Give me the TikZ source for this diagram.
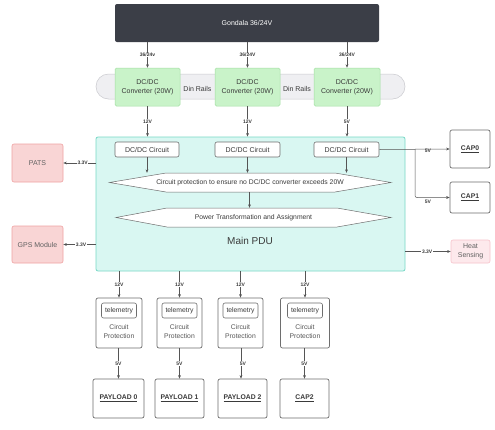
\documentclass[tikz,border=0pt]{standalone}
\usepackage{fontspec}
\setmainfont{Liberation Sans}
\usetikzlibrary{arrows.meta,calc}
\definecolor{gond}{HTML}{3B3E47}
\definecolor{convfill}{HTML}{C9F3C9}
\definecolor{convline}{HTML}{A3DFA3}
\definecolor{railfill}{HTML}{EFEFF2}
\definecolor{railline}{HTML}{C9C9CE}
\definecolor{pdufill}{HTML}{D9F7F2}
\definecolor{pduline}{HTML}{78D8C6}
\definecolor{pinkfill}{HTML}{F9D5D5}
\definecolor{pinkline}{HTML}{F0A3A3}
\definecolor{heatfill}{HTML}{FDE9EC}
\definecolor{heatline}{HTML}{F7C2CA}
\definecolor{boxline}{HTML}{6E6E6E}
\definecolor{wire}{HTML}{555555}
\definecolor{txt}{HTML}{3A3A3A}
\tikzset{
  conv/.style={fill=convfill, draw=convline, rounded corners=1.5pt, minimum height=38pt, inner sep=0pt, align=center, text=txt, font=\fontsize{7}{8.6}\selectfont, line width=0.5pt},
  circbox/.style={fill=white, draw=boxline, rounded corners=2pt, minimum height=15pt, inner sep=0pt, text=txt, font=\fontsize{7}{8.4}\selectfont, line width=0.6pt},
  pinkbox/.style={fill=pinkfill, draw=pinkline, rounded corners=2pt, inner sep=0pt, align=center, text=txt!80, font=\fontsize{7}{8.4}\selectfont, line width=0.6pt},
  capbox/.style={fill=white, draw=boxline, rounded corners=2pt, inner sep=0pt, align=center, text=txt, font=\fontsize{6.8}{8}\selectfont\bfseries, line width=0.7pt},
  protbox/.style={fill=white, draw=boxline, rounded corners=2pt, inner sep=0pt, minimum height=50pt, line width=0.7pt},
  telebox/.style={fill=white, draw=boxline, rounded corners=2pt, inner sep=0pt, minimum width=35pt, minimum height=15pt, text=txt, font=\fontsize{6.8}{8}\selectfont, line width=0.6pt},
  prottext/.style={align=center, text=txt!85, font=\fontsize{6.8}{8.2}\selectfont, inner sep=0pt},
  hexshape/.style={fill=white, draw=boxline, line width=0.5pt},
  wirearrow/.style={draw=wire, line width=0.5pt, -{Stealth[length=3.5pt,width=2.8pt]}},
  lbl/.style={font=\fontsize{5}{6}\selectfont\bfseries, text=txt, fill=white, inner sep=0.6pt},
  lblp/.style={font=\fontsize{5}{6}\selectfont\bfseries, text=txt, fill=pdufill, inner sep=0.6pt},
  lbln/.style={font=\fontsize{5}{6}\selectfont\bfseries, text=txt, inner sep=0.6pt},
}
\begin{document}
\begin{tikzpicture}[x=1pt,y=-1pt]
\useasboundingbox[fill=white] (0,0) rectangle (495,429);

% Gondala
\node[fill=gond, rounded corners=2pt, minimum width=264pt, minimum height=38pt, inner sep=0pt, text=white, font=\fontsize{7}{8}\selectfont] (gond) at (247,23) {Gondala 36/24V};

% Din rails
\node[fill=railfill, draw=railline, rounded corners=12.5pt, minimum width=309pt, minimum height=25pt, inner sep=0pt, line width=0.5pt] (rail) at (250.5,86.5) {};
\node[text=txt, font=\fontsize{7}{8}\selectfont, inner sep=0pt] (dr1) at (197.5,88.5) {Din Rails};
\node[text=txt, font=\fontsize{7}{8}\selectfont, inner sep=0pt] (dr2) at (297,88.5) {Din Rails};

% converters
\node[conv, minimum width=65pt] (cv1) at (147.5,87) {DC/DC\\Converter (20W)};
\node[conv, minimum width=65pt] (cv2) at (247.5,87) {DC/DC\\Converter (20W)};
\node[conv, minimum width=66pt] (cv3) at (347,87) {DC/DC\\Converter (20W)};

% PDU
\node[fill=pdufill, draw=pduline, rounded corners=2pt, minimum width=309pt, minimum height=134pt, inner sep=0pt, line width=0.8pt] (pdu) at (250.5,204) {};
\node[text=txt, font=\fontsize{10}{12}\selectfont, inner sep=0pt] (pdut) at (250,241) {Main PDU};

% circuits
\node[circbox, minimum width=64pt] (ci1) at (147,149.5) {DC/DC Circuit};
\node[circbox, minimum width=65pt] (ci2) at (247.5,149.5) {DC/DC Circuit};
\node[circbox, minimum width=65pt] (ci3) at (346.5,149.5) {DC/DC Circuit};

% hexagons
\draw[hexshape] (109.5,182.5) -- (166,173) -- (335,173) -- (391,182.5) -- (335,192) -- (166,192) -- cycle;
\node[minimum width=282pt, minimum height=19pt, inner sep=0pt, text=txt, font=\fontsize{6.8}{8}\selectfont] (hx1) at (250,182.5) {Circuit protection to ensure no DC/DC converter exceeds 20W};
\draw[hexshape] (116,217.5) -- (167,208) -- (337,208) -- (391,217.5) -- (337,227) -- (167,227) -- cycle;
\node[minimum width=275pt, minimum height=19pt, inner sep=0pt, text=txt, font=\fontsize{6.8}{8}\selectfont] (hx2) at (253.5,217.5) {Power Transformation and Assignment};

% left boxes
\node[pinkbox, minimum width=51pt, minimum height=38pt] (pats) at (37.5,163) {PATS};
\node[pinkbox, minimum width=51pt, minimum height=37pt] (gps) at (37.5,244.5) {GPS Module};

% right boxes
\node[capbox, minimum width=40pt, minimum height=38pt] (cap0) at (470,149) {\underline{CAP0}};
\node[capbox, minimum width=40pt, minimum height=31pt] (cap1) at (470,197.5) {\underline{CAP1}};
\node[pinkbox, fill=heatfill, draw=heatline, minimum width=39pt, minimum height=23pt] (heat) at (470.5,251.5) {Heat\\Sensing};

% protection boxes
\foreach \n/\x/\w in {1/119/46, 2/179.5/45, 3/240.5/45, 4/305/49}{
  \node[protbox, minimum width=\w pt] (pr\n) at (\x,323) {};
  \node[telebox] (tl\n) at (\x,310.5) {telemetry};
  \node[prottext] (pt\n) at (\x,331.5) {Circuit\\Protection};
}

% payloads
\node[capbox, minimum width=51pt, minimum height=39pt] (pl0) at (118.5,398.5) {\underline{PAYLOAD 0}};
\node[capbox, minimum width=49pt, minimum height=39pt] (pl1) at (179.5,398.5) {\underline{PAYLOAD 1}};
\node[capbox, minimum width=49pt, minimum height=39pt] (pl2) at (242.5,398.5) {\underline{PAYLOAD 2}};
\node[capbox, minimum width=49pt, minimum height=39pt] (cap2) at (304.5,398.5) {\underline{CAP2}};

% Gondala -> converters
\draw[wirearrow] (cv1.north |- gond.south) -- node[lbl]{36/24v} (cv1.north);
\draw[wirearrow] (cv2.north |- gond.south) -- node[lbl]{36/24V} (cv2.north);
\draw[wirearrow] (cv3.north |- gond.south) -- node[lbl]{36/24V} (cv3.north);

% converters -> PDU
\draw[wirearrow] (cv1.south) -- node[lbl]{12V} (cv1.south |- pdu.north);
\draw[wirearrow] (cv2.south) -- node[lbl]{12V} (cv2.south |- pdu.north);
\draw[wirearrow] (cv3.south) -- node[lbl]{5V} (cv3.south |- pdu.north);

% circuits -> hexagon
\draw[wirearrow] (ci1.south) -- (ci1.south |- hx1.north);
\draw[wirearrow] (ci2.south) -- (ci2.south |- hx1.north);
\draw[wirearrow] (ci3.south) -- (ci3.south |- hx1.north);
\coordinate (h1b) at ($(hx1.south)+(-0.5,0)$);
\draw[wirearrow] (h1b) -- (h1b |- hx2.north);

% left outputs
\draw[wirearrow] (pdu.west |- pats.east) -- node[lbl, pos=0.4]{3.3V} (pats.east);
\draw[wirearrow] (pdu.west |- gps.east) -- node[lbl, pos=0.45]{3.3V} (gps.east);

% right outputs
\coordinate (br) at (415,149);
\draw[wirearrow] (ci3.east) -- node[lbln, pos=0.69, yshift=-1.5pt]{5V} (cap0.west);
\draw[wirearrow, rounded corners=2pt] (br) -- (br |- cap1.west) -- node[lbln, pos=0.37, yshift=-4pt]{5V} (cap1.west);
\draw[wirearrow] (pdu.east |- heat.west) -- node[lbl, pos=0.48]{3.3V} (heat.west);

% PDU -> protection -> payloads
\foreach \n in {1,2,3,4}{
  \draw[wirearrow] (pr\n.north |- pdu.south) -- node[lbl]{12V} (pr\n.north);
}
\coordinate (pl2in) at ($(pl2.north)+(-1.5,0)$);
\draw[wirearrow] (pr1.south -| pl0.north) -- node[lbl]{5V} (pl0.north);
\draw[wirearrow] (pr2.south -| pl1.north) -- node[lbl]{5V} (pl1.north);
\draw[wirearrow] (pr3.south -| pl2in) -- node[lbl, xshift=2pt]{5V} (pl2in);
\draw[wirearrow] (pr4.south -| cap2.north) -- node[lbl]{5V} (cap2.north);
\end{tikzpicture}
\end{document}
